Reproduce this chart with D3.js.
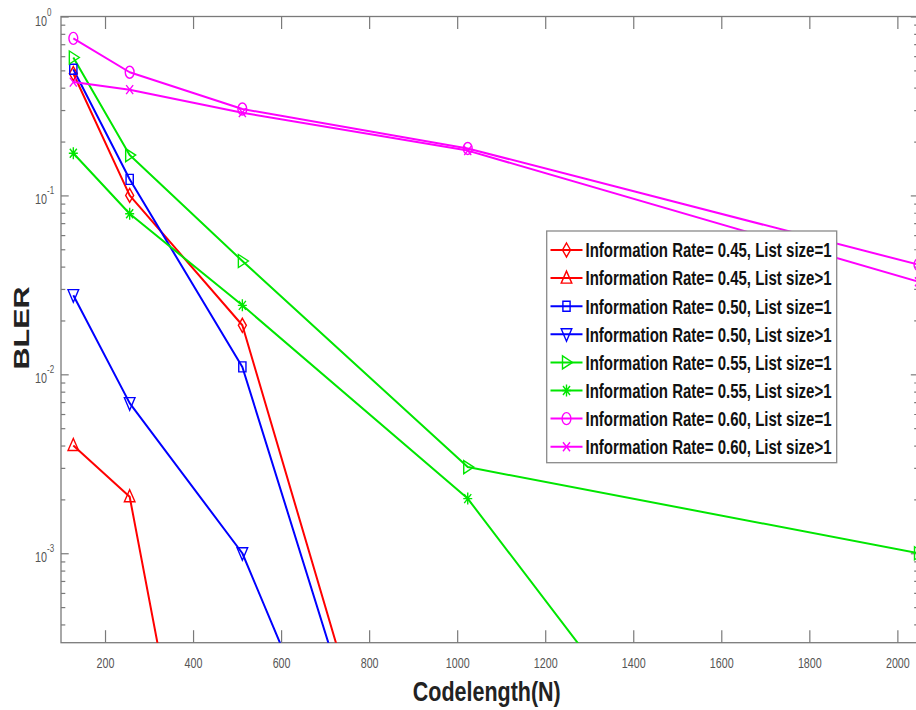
<!DOCTYPE html>
<html><head><meta charset="utf-8">
<script src="https://cdn.jsdelivr.net/npm/d3@7"></script>
<style>
body{margin:0;background:#fff;}
svg{display:block;}
text{font-family:"Liberation Sans",Arial,sans-serif;}
</style></head>
<body>
<svg id="c" width="916" height="710"></svg>
<script>
// ---- data ----
const codelengths = [128, 256, 512, 1024, 2048];
const rate045_L1 = [0.48, 0.100, 0.0188, 1e-6, 1e-6];
const rate045_Lgt1 = [0.0040, 0.00207, 1e-6, 1e-6, 1e-6];
const rate050_L1 = [0.507, 0.123, 0.0110, 1e-6, 1e-6];
const rate050_Lgt1 = [0.0277, 0.0069, 0.0010, 1e-6, 1e-6];
const rate055_L1 = [0.59, 0.168, 0.043, 0.00303, 0.0010];
const rate055_Lgt1 = [0.172, 0.079, 0.0243, 0.00202, 1e-6];
const rate060_L1 = [0.755, 0.488, 0.304, 0.183, 0.041];
const rate060_Lgt1 = [0.43, 0.39, 0.29, 0.178, 0.0329];
const seriesNames = [
  "Information Rate= 0.45, List size=1",
  "Information Rate= 0.45, List size>1",
  "Information Rate= 0.50, List size=1",
  "Information Rate= 0.50, List size>1",
  "Information Rate= 0.55, List size=1",
  "Information Rate= 0.55, List size>1",
  "Information Rate= 0.60, List size=1",
  "Information Rate= 0.60, List size>1"
];
const seriesValues = [rate045_L1, rate045_Lgt1, rate050_L1, rate050_Lgt1, rate055_L1, rate055_Lgt1, rate060_L1, rate060_Lgt1];
const seriesColors = ["#ff0000","#ff0000","#0000ff","#0000ff","#00e600","#00e600","#ff00ff","#ff00ff"];
const seriesMarkers = ["diamond","triUp","square","triDown","triRight","star","circle","cross"];
const xTicks = [200,400,600,800,1000,1200,1400,1600,1800,2000];
const yMajor = [1, 0.1, 0.01, 0.001];
const yExp = ["0","-1","-2","-3"];
const xLabel = "Codelength(N)";
const yLabel = "BLER";

// ---- layout ----
const svg = d3.select("#c");
const L = 61, R = 918.5, T = 16.5, B = 642.7;
const x = d3.scaleLinear().domain([100, 2048]).range([L, R]);
const y = d3.scaleLog().domain([Math.pow(10,-3.5), 1]).range([B, T]);
const axisCol = "#7a7a7a", labelCol = "#555";

svg.append("defs").append("clipPath").attr("id","plotclip")
  .append("rect").attr("x",L).attr("y",T).attr("width",R-L).attr("height",B-T);

// axes box
svg.append("rect").attr("x",L).attr("y",T).attr("width",R-L).attr("height",B-T)
  .attr("fill","none").attr("stroke",axisCol).attr("stroke-width",1.3);

// x axes (bottom + top)
const xb = svg.append("g").attr("transform",`translate(0,${B})`)
  .call(d3.axisBottom(x).tickValues(xTicks).tickFormat(d3.format("d"))
    .tickSizeInner(-12.5).tickSizeOuter(0).tickPadding(15));
const xt = svg.append("g").attr("transform",`translate(0,${T})`)
  .call(d3.axisTop(x).tickValues(xTicks).tickSizeInner(-12.5).tickSizeOuter(0).tickFormat(""));
[xb, xt].forEach(g => {
  g.select(".domain").remove();
  g.selectAll(".tick line").attr("stroke",axisCol).attr("stroke-width",1.2);
});
xb.selectAll(".tick text").attr("fill",labelCol).attr("font-size",14.5)
  .attr("transform","scale(0.74,1)");

// y axes: minor + major ticks
const minors = [];
for (let e = -4; e <= 0; e++) for (let m = 2; m <= 9; m++) {
  const v = m*Math.pow(10,e); if (v >= y.domain()[0] && v <= 1) minors.push(v);
}
const yl = svg.append("g").attr("transform",`translate(${L},0)`)
  .call(d3.axisLeft(y).tickValues(yMajor).tickSizeInner(-7.7).tickSizeOuter(0).tickFormat(""));
const ylm = svg.append("g").attr("transform",`translate(${L},0)`)
  .call(d3.axisLeft(y).tickValues(minors).tickSizeInner(-4.3).tickSizeOuter(0).tickFormat(""));
const yr = svg.append("g").attr("transform",`translate(${R},0)`)
  .call(d3.axisRight(y).tickValues(yMajor).tickSizeInner(-7.7).tickSizeOuter(0).tickFormat(""));
const yrm = svg.append("g").attr("transform",`translate(${R},0)`)
  .call(d3.axisRight(y).tickValues(minors).tickSizeInner(-4.3).tickSizeOuter(0).tickFormat(""));
[yl, ylm, yr, yrm].forEach(g => {
  g.select(".domain").remove();
  g.selectAll(".tick line").attr("stroke",axisCol).attr("stroke-width",1.2);
});
// y tick labels 10^e
yMajor.forEach((v,i) => {
  const g = svg.append("g").attr("transform",`translate(${L-14},${y(v)})`);
  g.append("text").attr("x",0).attr("y",9).attr("text-anchor","end")
    .attr("font-size",15).attr("fill",labelCol).attr("transform","scale(0.72,1)")
    .text("10");
  g.append("text").attr("x",0).attr("y",-1).attr("text-anchor","start")
    .attr("font-size",10).attr("fill",labelCol).attr("transform","scale(0.8,1)")
    .text(yExp[i]);
});

// axis labels
svg.append("text").attr("x",(L+R)/2 - 3).attr("y",701).attr("text-anchor","middle")
  .attr("font-size",27).attr("font-weight","bold").attr("fill","#222")
  .attr("textLength",148).attr("lengthAdjust","spacingAndGlyphs").text(xLabel);
svg.append("text").attr("transform","translate(29,328) rotate(-90)").attr("text-anchor","middle")
  .attr("font-size",22).attr("font-weight","bold").attr("fill","#222")
  .attr("textLength",83).attr("lengthAdjust","spacingAndGlyphs").text(yLabel);

// marker shapes
function drawMarker(g, type, color) {
  const sw = 1.4;
  const p = (d) => g.append("path").attr("d",d).attr("fill","none").attr("stroke",color).attr("stroke-width",sw);
  switch(type) {
    case "diamond": p("M0,-7L4,0L0,7L-4,0Z"); break;
    case "triUp": p("M0,-7L5.3,5L-5.3,5Z"); break;
    case "square": p("M-3.6,-5H3.6V5H-3.6Z"); break;
    case "triDown": p("M-5.3,-5.5H5.3L0,7Z"); break;
    case "triRight": p("M-4,-6.5L6,0L-4,6.5Z"); break;
    case "star": p("M0,-6V6M-4.5,0H4.5M-3.5,-4.5L3.5,4.5M-3.5,4.5L3.5,-4.5"); break;
    case "circle": g.append("ellipse").attr("rx",4.4).attr("ry",6).attr("fill","none").attr("stroke",color).attr("stroke-width",sw); break;
    case "cross": p("M-3.5,-4.5L3.5,4.5M-3.5,4.5L3.5,-4.5"); break;
  }
}

// series
const plot = svg.append("g").attr("clip-path","url(#plotclip)");
const line = d3.line().x(d => x(d[0])).y(d => y(d[1]));
seriesValues.forEach((vals,i) => {
  const pts = codelengths.map((n,j) => [n, vals[j]]);
  plot.append("path").attr("d",line(pts)).attr("fill","none")
    .attr("stroke",seriesColors[i]).attr("stroke-width",2).attr("stroke-linejoin","round");
});
const mk = svg.append("g");
seriesValues.forEach((vals,i) => {
  codelengths.forEach((n,j) => {
    const v = vals[j];
    if (v >= y.domain()[0] && v <= 1) {
      const g = mk.append("g").attr("transform",`translate(${x(n)},${y(v)})`);
      drawMarker(g, seriesMarkers[i], seriesColors[i]);
    }
  });
});

// legend
const lg = svg.append("g");
lg.append("rect").attr("x",546.7).attr("y",231).attr("width",290).attr("height",231.7)
  .attr("fill","#fff").attr("stroke","#8a8a8a").attr("stroke-width",1.3);
seriesNames.forEach((name,i) => {
  const cy = 250 + i*28.1;
  lg.append("line").attr("x1",550.5).attr("x2",582.5).attr("y1",cy).attr("y2",cy)
    .attr("stroke",seriesColors[i]).attr("stroke-width",2);
  const g = lg.append("g").attr("transform",`translate(566.5,${cy})`);
  drawMarker(g, seriesMarkers[i], seriesColors[i]);
  lg.append("text").attr("x",585.5).attr("y",cy+7.3).attr("font-size",20).attr("font-weight","bold")
    .attr("fill","#111").attr("textLength",246).attr("lengthAdjust","spacingAndGlyphs").text(name);
});
</script>
</body></html>
